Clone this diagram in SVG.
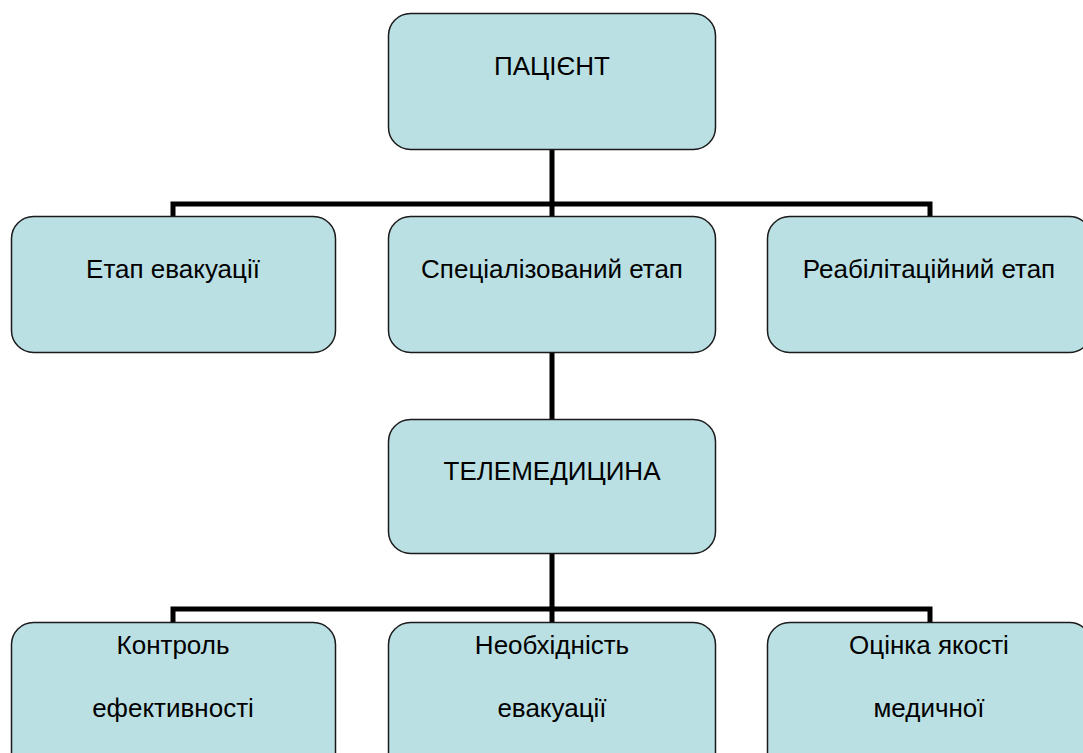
<svg xmlns="http://www.w3.org/2000/svg" width="1083" height="753" viewBox="0 0 1083 753">
<style>
.box{fill:#bbe0e3;stroke:#1a1a1a;stroke-width:1.5}
.lbl{font-family:"Liberation Sans",Arial,sans-serif;font-size:26px;fill:#000;text-anchor:middle}
.con{fill:none;stroke:#000;stroke-width:5;stroke-linejoin:miter;stroke-linecap:butt}
</style>
<rect width="1083" height="753" fill="#fff"/>
<g id="connectors">
<path class="con" d="M552,149 V204 M173,216 V204 H930 V216 M552,204 V216"/>
<path class="con" d="M552,352 V419"/>
<path class="con" d="M552,553 V609 M173,622 V609 H930 V622 M552,609 V622"/>
</g>
<g id="patient">
<rect class="box" x="388.5" y="13.5" width="327" height="136" rx="22"/>
<text class="lbl" x="552" y="75">ПАЦІЄНТ</text>
</g>
<g id="evac">
<rect class="box" x="11.5" y="216.5" width="324" height="136" rx="22"/>
<text class="lbl" x="173" y="278">Етап евакуації</text>
</g>
<g id="special">
<rect class="box" x="388.5" y="216.5" width="327" height="136" rx="22"/>
<text class="lbl" x="552" y="278">Спеціалізований етап</text>
</g>
<g id="rehab">
<rect class="box" x="767.5" y="216.5" width="324" height="136" rx="22"/>
<text class="lbl" x="929" y="278">Реабілітаційний етап</text>
</g>
<g id="telemed">
<rect class="box" x="388.5" y="419.5" width="327" height="134" rx="22"/>
<text class="lbl" x="552" y="480">ТЕЛЕМЕДИЦИНА</text>
</g>
<g id="control">
<rect class="box" x="11.5" y="622.5" width="324" height="160" rx="22"/>
<text class="lbl" x="173" y="654">Контроль</text>
<text class="lbl" x="173" y="717">ефективності</text>
</g>
<g id="need">
<rect class="box" x="388.5" y="622.5" width="327" height="160" rx="22"/>
<text class="lbl" x="552" y="654">Необхідність</text>
<text class="lbl" x="552" y="717">евакуації</text>
</g>
<g id="quality">
<rect class="box" x="767.5" y="622.5" width="324" height="160" rx="22"/>
<text class="lbl" x="929" y="654">Оцінка якості</text>
<text class="lbl" x="929" y="717">медичної</text>
</g>
</svg>
